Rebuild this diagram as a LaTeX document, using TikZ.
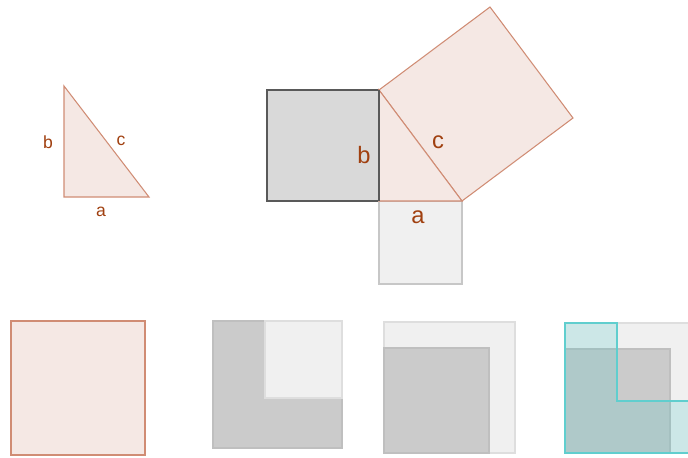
\documentclass[tikz,border=0pt]{standalone}
\usepackage{fontspec}
\setmainfont{Liberation Sans}
\usetikzlibrary{positioning}
\definecolor{pinkfill}{RGB}{245,232,228}
\definecolor{pinkline}{RGB}{208,140,116}
\definecolor{labelcol}{RGB}{160,64,16}
\definecolor{darkfill}{RGB}{217,217,217}
\definecolor{midfill}{RGB}{203,203,203}
\definecolor{lightfill}{RGB}{240,240,240}
\definecolor{tealline}{RGB}{96,206,206}
\definecolor{tealfill}{RGB}{64,196,196}
\tikzstyle{Pink} = [draw=pinkline, fill=pinkfill, line width=0.6pt]
\tikzstyle{Dark} = [draw=black!65, fill=darkfill, line width=0.9pt]
\tikzstyle{Light} = [draw=black!22, fill=lightfill, line width=0.7pt]
\tikzstyle{Mid} = [draw=black!25, fill=midfill, line width=0.6pt]
\tikzstyle{Pale} = [draw=black!13, fill=lightfill, line width=0.6pt]
\tikzstyle{Teal} = [draw=tealline, fill=tealfill, fill opacity=0.2, line width=0.7pt]
\tikzstyle{Small} = [text=labelcol, font=\fontsize{10}{12}\selectfont, inner sep=0pt]
\tikzstyle{Big} = [text=labelcol, font=\fontsize{13.5}{16}\selectfont, inner sep=0pt]

\begin{document}
\begin{tikzpicture}[x=0.02cm, y=-0.02cm]
    \useasboundingbox (0,0) rectangle (688,457);
    \clip (0,0) rectangle (688,457);

    % small triangle
    \coordinate (s1) at (64,197);
    \coordinate (s2) at (149,197);
    \coordinate (s3) at (64,86);
    \draw[Pink] (s1) -- (s2) -- (s3) -- cycle;
    \node[Small] (sa) at (101,212) {a};
    \node[Small] (sb) at (48,142)  {b};
    \node[Small] (sc) at (121,141) {c};

    % squares on the sides
    \coordinate (R) at (379,201);
    \coordinate (P) at (462,201);
    \coordinate (Q) at (379,90);
    \draw[Dark]  (267,90) rectangle (R);
    \draw[Light] (R) rectangle (462,284);
    \draw[Pink]  (Q) -- (P) -- (573,118) -- (490,7) -- cycle;
    \draw[Pink]  (R) -- (P) -- (Q) -- cycle;
    \draw[Dark, fill=none] (Q) -- (R);
    \node[Big] (ba) at (418,217) {a};
    \node[Big] (bb) at (364,155) {b};
    \node[Big] (bc) at (438,142) {c};

    % bottom row
    \draw[Pink] (11,321) rectangle (145,455);

    \draw[Mid]  (213,321) -- (265,321) -- (265,398) -- (342,398) -- (342,448) -- (213,448) -- cycle;
    \draw[Pale] (265,321) rectangle (342,398);

    \draw[Pale] (384,322) rectangle (515,453);
    \draw[Mid]  (384,348) rectangle (489,453);

    \draw[Pale] (565,323) rectangle (696,453);
    \draw[Mid]  (565,349) rectangle (670,453);
    \draw[Teal] (565,323) -- (617,323) -- (617,401) -- (694,401) -- (694,453) -- (565,453) -- cycle;
\end{tikzpicture}
\end{document}
